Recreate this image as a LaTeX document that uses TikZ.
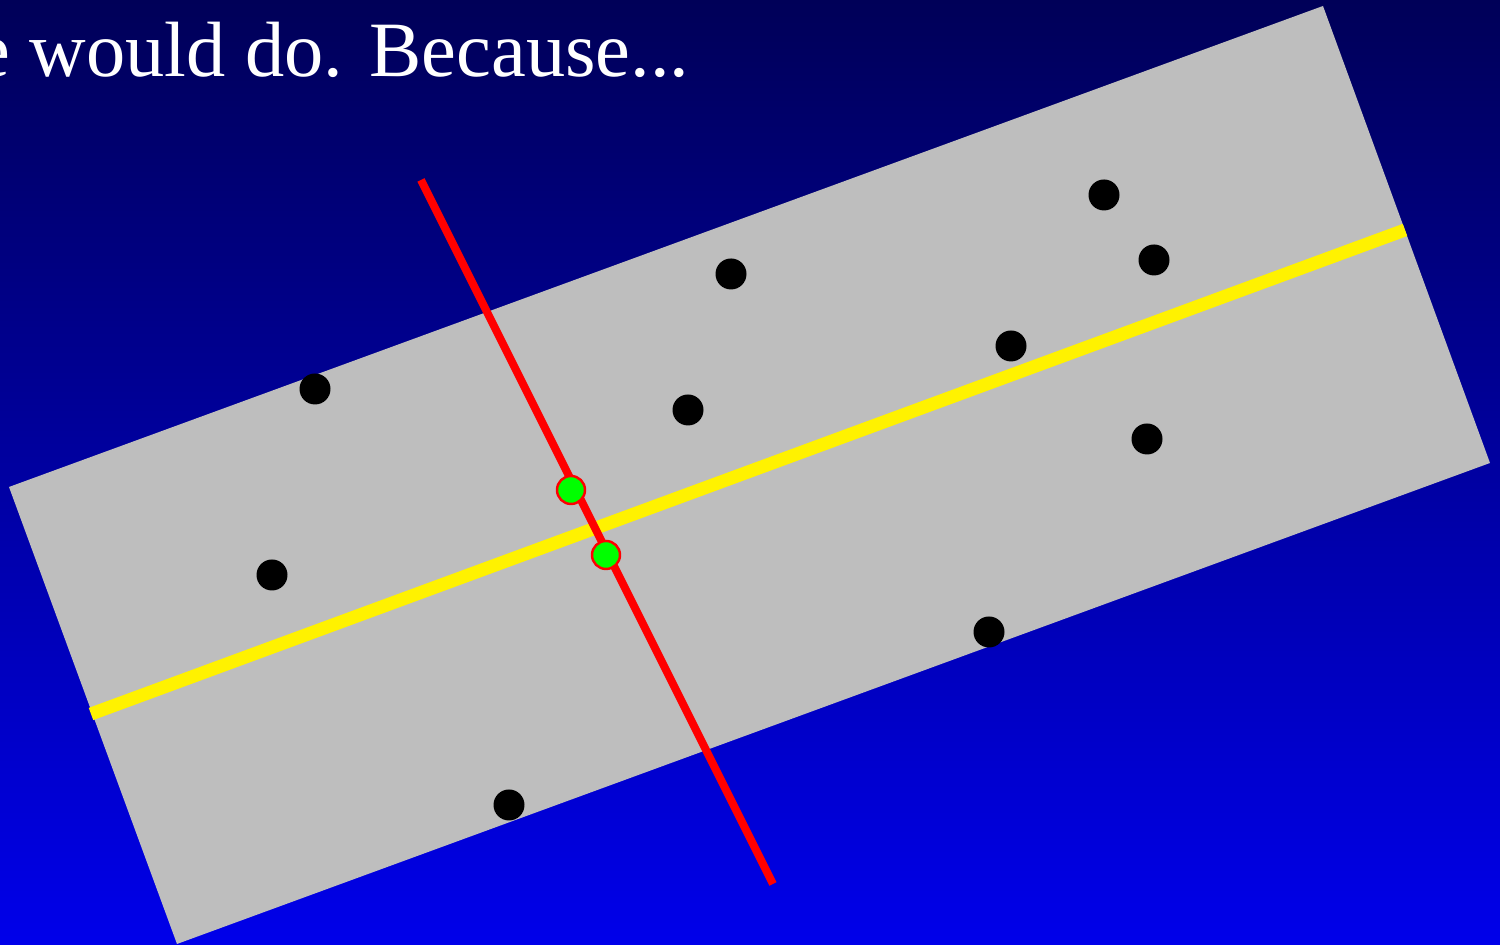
\documentclass[tikz,border=0pt]{standalone}
\usepackage{fontspec}
\setmainfont{Liberation Serif}
\usepackage{tikz}
\usetikzlibrary{positioning,calc}
\definecolor{navytop}{RGB}{0,0,88}
\definecolor{bluebot}{RGB}{0,0,234}
\definecolor{slab}{RGB}{190,190,190}
\begin{document}
\begin{tikzpicture}
  \tikzset{
    dot/.style={circle,fill=black,inner sep=0pt,minimum size=0.31cm},
    hit/.style={circle,fill=green,draw=red,line width=0.7pt,inner sep=0pt,minimum size=0.28cm},
    fitline/.style={yellow,line width=0.13cm},
    normline/.style={red,line width=0.08cm},
    caption/.style={white,font=\fontsize{22.3}{26}\selectfont,inner sep=0pt}}
  \useasboundingbox (0,0) rectangle (15,9.45);
  \clip (0,0) rectangle (15,9.45);
  \shade[top color=navytop,bottom color=bluebot] (0,0) rectangle (15,9.45);
  \node[caption,anchor=base east] (txt) at (6.90,8.68){e would do. Because...};
  % rotated band
  \fill[slab] (0.09,4.58) -- (13.23,9.39) -- (14.90,4.82) -- (1.77,0.01) -- cycle;
  \coordinate (ya) at (0.91,2.31);
  \coordinate (yb) at (14.05,7.15);
  \coordinate (ra) at (4.21,7.65);
  \coordinate (rb) at (7.73,0.61);
  \draw[fitline] (ya) -- (yb);
  \draw[normline] (ra) -- (rb);
  \foreach \x/\y [count=\i] in {3.15/5.56,2.72/3.70,5.09/1.40,7.31/6.71,6.88/5.35,
     11.04/7.50,11.54/6.85,10.11/5.99,11.47/5.06,9.89/3.13}
    \node[dot] (p\i) at (\x,\y){};
  \node[hit] (h1) at (5.71,4.55){};
  \node[hit] (h2) at (6.06,3.90){};
\end{tikzpicture}
\end{document}
